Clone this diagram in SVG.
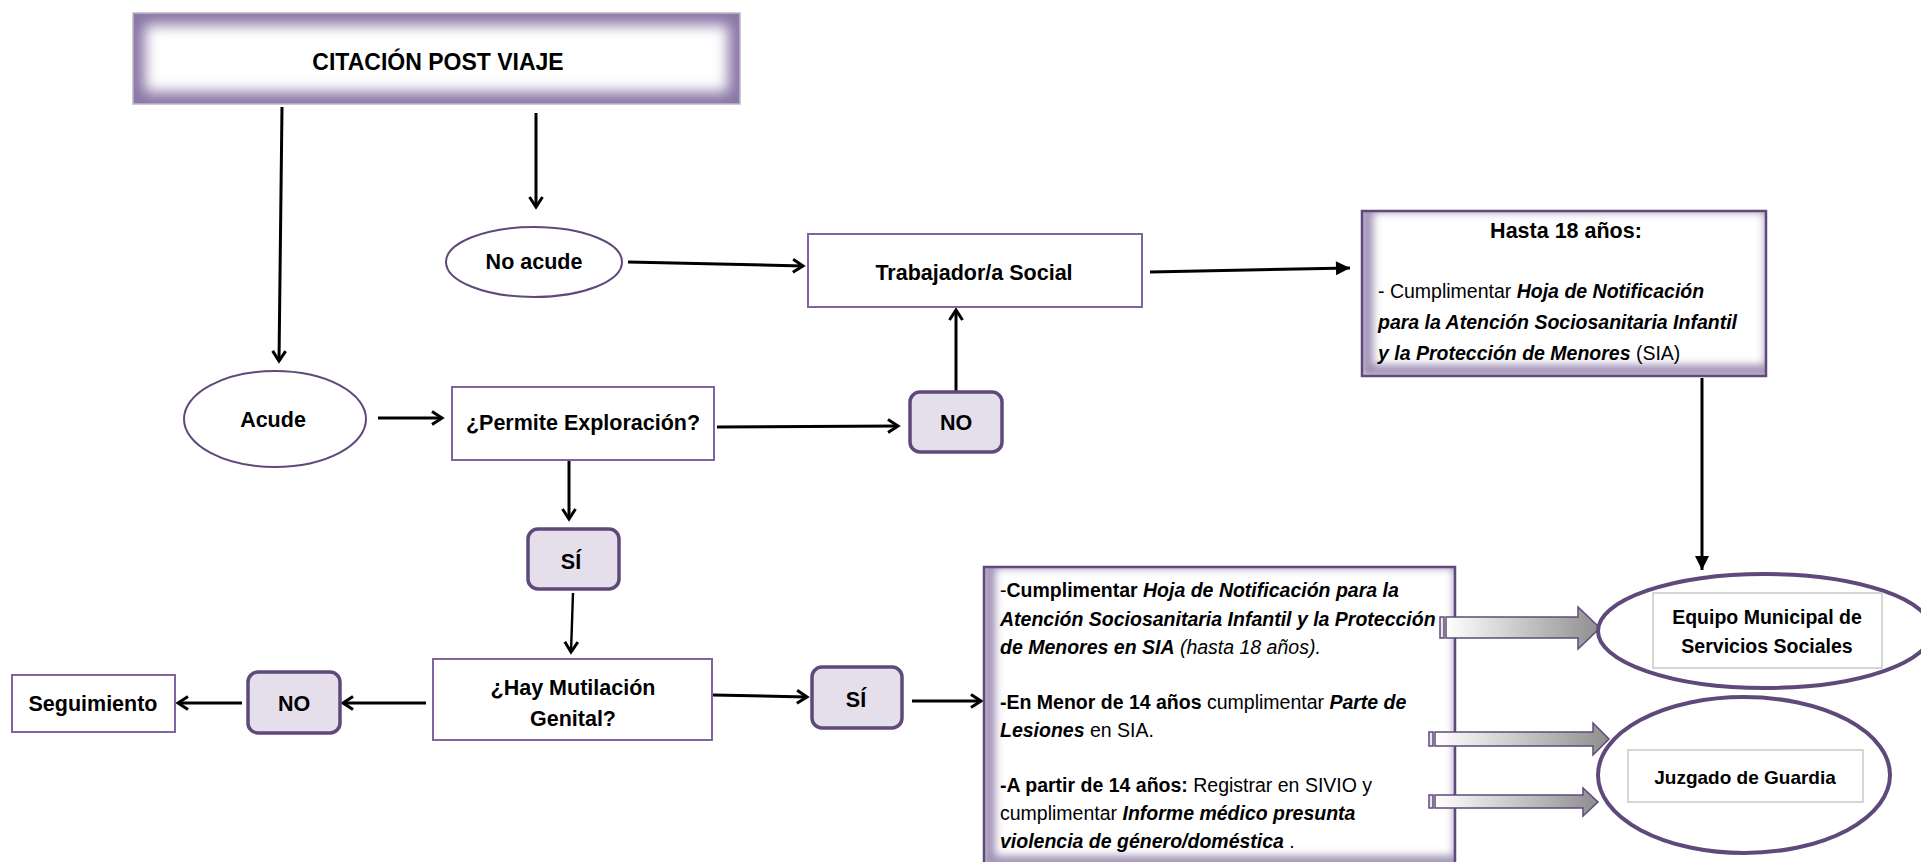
<svg xmlns="http://www.w3.org/2000/svg" width="1921" height="862" viewBox="0 0 1921 862">
<defs>
<style>
text{font-family:'Liberation Sans',Arial,sans-serif;fill:#000}
.h{font-size:21.5px;font-weight:bold}
.b{font-size:19.5px}
.bd{font-weight:bold}
.bi{font-weight:bold;font-style:italic}
.it{font-style:italic}
.box{fill:#fff;stroke:#8064A2;stroke-width:2}
.ell{fill:#fff;stroke:#5F497A;stroke-width:2}
.dec{fill:#E5DFEC;stroke:#5F497A;stroke-width:3.5}
.big{fill:none;stroke:#5F497A;stroke-width:2.5}
.dest{fill:#fff;stroke:#5F497A;stroke-width:4}
.inner{fill:#fff;stroke:#C9C9C9;stroke-width:1.5}
.ln{fill:none;stroke:#000;stroke-width:3}
.blk{stroke:#5F497A;stroke-width:1.5}
</style>
<marker id="open" markerUnits="userSpaceOnUse" viewBox="0 0 16 16" markerWidth="16" markerHeight="16" refX="13" refY="8" orient="auto" overflow="visible">
<path d="M3,1.5 L13,8 L3,14.5" fill="none" stroke="#000" stroke-width="3"/>
</marker>
<marker id="fill" markerUnits="userSpaceOnUse" viewBox="0 0 16 16" markerWidth="16" markerHeight="16" refX="15" refY="8" orient="auto" overflow="visible">
<path d="M1,1 L15,8 L1,15 z" fill="#000"/>
</marker>
<linearGradient id="grad" x1="0" y1="0" x2="1" y2="0">
<stop offset="0" stop-color="#FFFFFF"/>
<stop offset="1" stop-color="#8E8E8E"/>
</linearGradient>
<filter id="blur" x="-20%" y="-50%" width="140%" height="200%"><feGaussianBlur stdDeviation="7"/></filter>
<filter id="blur2" x="-20%" y="-50%" width="140%" height="200%"><feGaussianBlur stdDeviation="4"/></filter>
<clipPath id="cCit"><rect x="133" y="13" width="607" height="91"/></clipPath>
<clipPath id="cHasta"><rect x="1362" y="211" width="404" height="165"/></clipPath>
<clipPath id="cBig"><rect x="984" y="567" width="471" height="300"/></clipPath>
</defs>

<g id="connectors">
<line class="ln" x1="282" y1="107" x2="279" y2="361" marker-end="url(#open)"/>
<line class="ln" x1="536" y1="113" x2="536" y2="207" marker-end="url(#open)"/>
<line class="ln" x1="628" y1="262" x2="803" y2="266" marker-end="url(#open)"/>
<line class="ln" x1="1150" y1="272" x2="1350" y2="268" marker-end="url(#fill)"/>
<line class="ln" x1="1702" y1="378" x2="1702" y2="570" marker-end="url(#fill)"/>
<line class="ln" x1="378" y1="418" x2="442" y2="418" marker-end="url(#open)"/>
<line class="ln" x1="717" y1="427" x2="898" y2="426" marker-end="url(#open)"/>
<line class="ln" x1="956" y1="392" x2="956" y2="310" marker-end="url(#open)"/>
<line class="ln" x1="569" y1="461" x2="569" y2="519" marker-end="url(#open)"/>
<line class="ln" x1="573" y1="593" x2="571" y2="652" marker-end="url(#open)" style="stroke-width:2.4"/>
<line class="ln" x1="426" y1="703" x2="343" y2="703" marker-end="url(#open)"/>
<line class="ln" x1="242" y1="703" x2="178" y2="703" marker-end="url(#open)"/>
<line class="ln" x1="713" y1="695" x2="807" y2="697" marker-end="url(#open)"/>
<line class="ln" x1="912" y1="701" x2="981" y2="701" marker-end="url(#open)"/>
</g>

<g id="citacion">
<rect x="133" y="13" width="607" height="91" fill="#fff"/>
<g clip-path="url(#cCit)">
<rect x="133" y="13" width="607" height="91" fill="none" stroke="#8A76A6" stroke-width="24" filter="url(#blur)"/>
</g>
<rect x="133" y="13" width="607" height="91" fill="none" stroke="#BDB6C6" stroke-width="1.5"/>
<text class="h" x="438" y="70" text-anchor="middle" style="font-size:23px">CITACIÓN POST VIAJE</text>
</g>

<g id="no-acude">
<ellipse class="ell" cx="534" cy="262" rx="88" ry="35"/>
<text class="h" x="534" y="269" text-anchor="middle">No acude</text>
</g>

<g id="trabajador">
<rect class="box" x="808" y="234" width="334" height="73"/>
<text class="h" x="974" y="280" text-anchor="middle">Trabajador/a Social</text>
</g>

<g id="hasta-18">
<rect x="1362" y="211" width="404" height="165" fill="#fff"/>
<g clip-path="url(#cHasta)">
<rect x="1367" y="206" width="404" height="165" fill="none" stroke="#9C8CB2" stroke-width="12" filter="url(#blur2)"/>
</g>
<rect class="big" x="1362" y="211" width="404" height="165"/>
<text class="h" x="1566" y="238" text-anchor="middle">Hasta 18 años:</text>
<text class="b" x="1378" y="298">- Cumplimentar <tspan class="bi">Hoja de Notificación</tspan></text>
<text class="b bi" x="1378" y="329">para la Atención Sociosanitaria Infantil</text>
<text class="b" x="1378" y="360"><tspan class="bi">y la Protección de Menores</tspan> (SIA)</text>
</g>

<g id="acude">
<ellipse class="ell" cx="275" cy="419" rx="91" ry="48"/>
<text class="h" x="273" y="427" text-anchor="middle">Acude</text>
</g>

<g id="permite">
<rect class="box" x="452" y="387" width="262" height="73"/>
<text class="h" x="583" y="430" text-anchor="middle">¿Permite Exploración?</text>
</g>

<g id="no-1">
<rect class="dec" x="910" y="392" width="92" height="60" rx="10"/>
<text class="h" x="956" y="430" text-anchor="middle">NO</text>
</g>

<g id="si-1">
<rect class="dec" x="528" y="529" width="91" height="60" rx="10"/>
<text class="h" x="571" y="569" text-anchor="middle">SÍ</text>
</g>

<g id="hay-mutilacion">
<rect class="box" x="433" y="659" width="279" height="81"/>
<text class="h" x="573" y="695" text-anchor="middle">¿Hay Mutilación</text>
<text class="h" x="573" y="726" text-anchor="middle">Genital?</text>
</g>

<g id="no-2">
<rect class="dec" x="248" y="672" width="92" height="61" rx="10"/>
<text class="h" x="294" y="711" text-anchor="middle">NO</text>
</g>

<g id="seguimiento">
<rect class="box" x="12" y="675" width="163" height="57"/>
<text class="h" x="93" y="711" text-anchor="middle">Seguimiento</text>
</g>

<g id="si-2">
<rect class="dec" x="812" y="667" width="90" height="61" rx="10"/>
<text class="h" x="856" y="707" text-anchor="middle">SÍ</text>
</g>

<g id="acciones">
<rect x="984" y="567" width="471" height="300" fill="#fff"/>
<g clip-path="url(#cBig)">
<rect x="989" y="562" width="471" height="300" fill="none" stroke="#9C8CB2" stroke-width="12" filter="url(#blur2)"/>
</g>
<rect class="big" x="984" y="567" width="471" height="300"/>
<text class="b" x="1000" y="597">-<tspan class="bd">Cumplimentar </tspan><tspan class="bi">Hoja de Notificación para la</tspan></text>
<text class="b bi" x="1000" y="626">Atención Sociosanitaria Infantil y la Protección</text>
<text class="b" x="1000" y="654"><tspan class="bi">de Menores en SIA</tspan> <tspan class="it">(hasta 18 años).</tspan></text>
<text class="b" x="1000" y="709"><tspan class="bd">-En Menor de 14 años</tspan> cumplimentar <tspan class="bi">Parte de</tspan></text>
<text class="b" x="1000" y="737"><tspan class="bi">Lesiones</tspan> en SIA.</text>
<text class="b" x="1000" y="792"><tspan class="bd">-A partir de 14 años:</tspan> Registrar en SIVIO y</text>
<text class="b" x="1000" y="820">cumplimentar <tspan class="bi">Informe médico presunta</tspan></text>
<text class="b" x="1000" y="848"><tspan class="bi">violencia de género/doméstica</tspan> .</text>
</g>

<g id="block-arrows">
<rect class="blk" x="1440" y="617" width="4" height="21" fill="#E8E8E8"/>
<path class="blk" d="M1446,617 H1578 V607 L1600,628 L1578,649 V638 H1446 Z" fill="url(#grad)"/>
<rect class="blk" x="1429" y="732" width="4" height="14" fill="#E8E8E8"/>
<path class="blk" d="M1435,732 H1593 V723 L1609,739 L1593,755 V746 H1435 Z" fill="url(#grad)"/>
<rect class="blk" x="1429" y="795" width="4" height="13" fill="#E8E8E8"/>
<path class="blk" d="M1435,795 H1583 V788 L1598,802 L1583,816 V808 H1435 Z" fill="url(#grad)"/>
</g>

<g id="equipo">
<ellipse class="dest" cx="1765" cy="631" rx="167" ry="57"/>
<rect class="inner" x="1653" y="593" width="229" height="75"/>
<text class="h" x="1767" y="624" text-anchor="middle" style="font-size:19.5px">Equipo Municipal de</text>
<text class="h" x="1767" y="653" text-anchor="middle" style="font-size:19.5px">Servicios Sociales</text>
</g>

<g id="juzgado">
<ellipse class="dest" cx="1744" cy="775" rx="146" ry="78"/>
<rect class="inner" x="1628" y="750" width="235" height="52"/>
<text class="h" x="1745" y="784" text-anchor="middle" style="font-size:19px">Juzgado de Guardia</text>
</g>
</svg>
